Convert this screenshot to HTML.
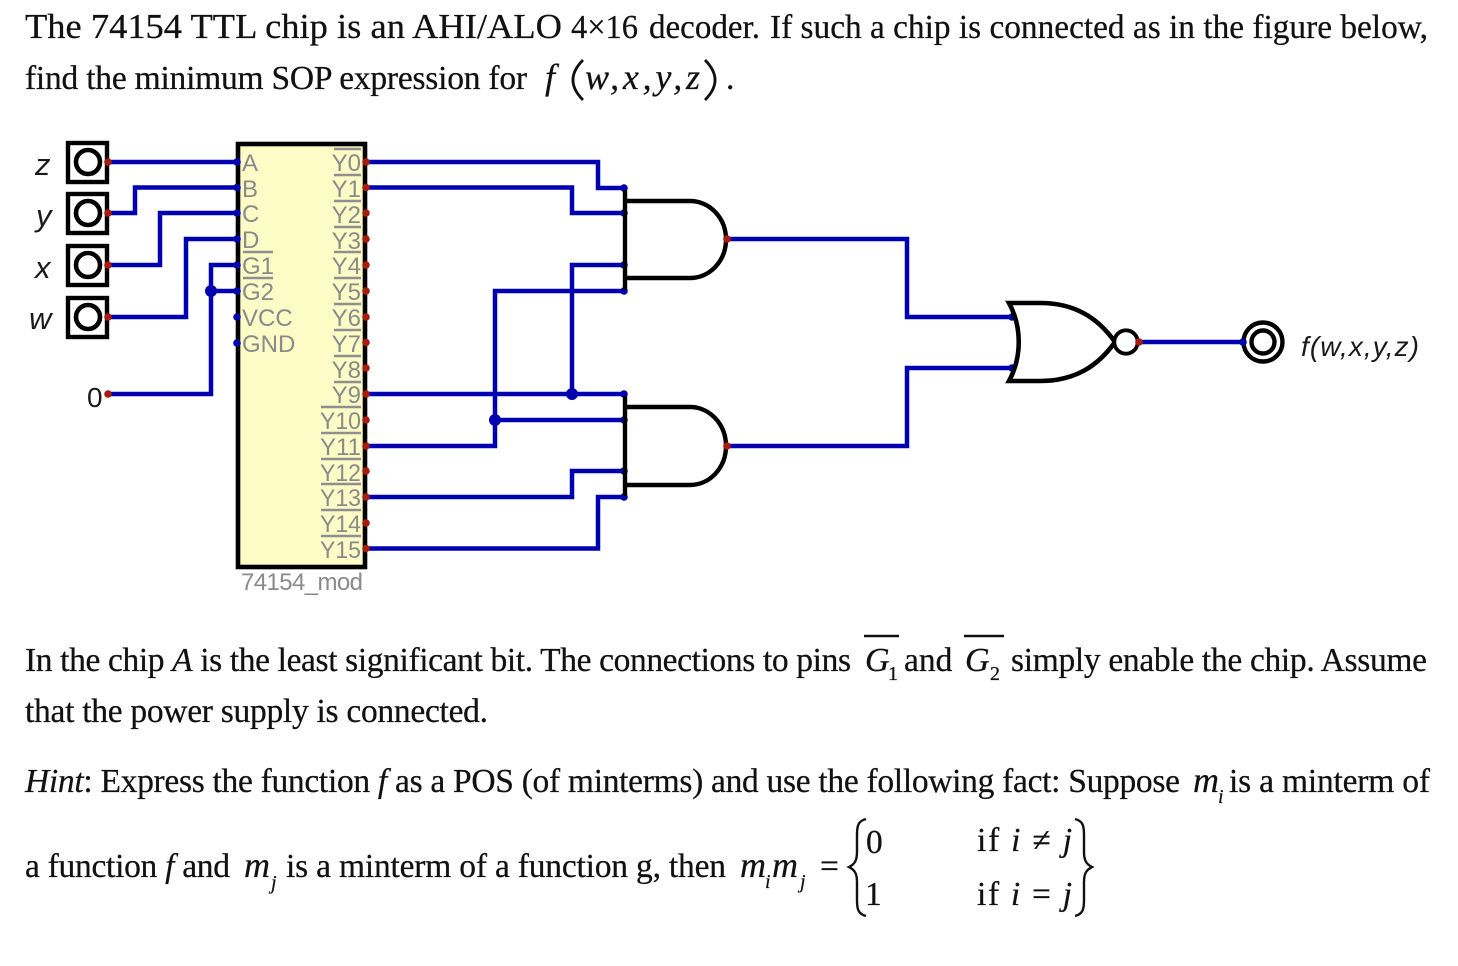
<!DOCTYPE html>
<html lang="en">
<head>
<meta charset="utf-8">
<title>74154 decoder</title>
<style>
html,body{margin:0;padding:0;background:#fff;width:1458px;height:966px;overflow:hidden}
svg{display:block}
.t{font-family:"Liberation Serif",serif;font-size:33.5px;fill:#111;stroke:#111;stroke-width:.25px}
.i{font-style:italic}
.mi{font-size:36px}
.s{font-family:"Liberation Sans",sans-serif;font-style:italic;fill:#1a1a1a}
.g{font-family:"Liberation Sans",sans-serif;font-size:24px;fill:#8a8a8a}
.w{fill:none;stroke:#0000b0;stroke-width:4.5;stroke-linejoin:miter}
.b{fill:none;stroke:#000;stroke-linecap:butt}
.o{stroke:#8f8f8f;stroke-width:2.6;fill:none}
.m{fill:none;stroke:#111}
</style>
</head>
<body>
<svg width="1458" height="966" viewBox="0 0 1458 966" xmlns="http://www.w3.org/2000/svg">
<rect width="1458" height="966" fill="#fff"/>

<!-- top text -->
<text class="t" x="25" y="38" style="font-size:35px" textLength="537" lengthAdjust="spacingAndGlyphs">The 74154 TTL chip is an AHI/ALO</text>
<text class="t" x="571" y="38" textLength="67" lengthAdjust="spacingAndGlyphs">4×16</text>
<text class="t" x="649" y="38" textLength="111" lengthAdjust="spacingAndGlyphs">decoder.</text>
<text class="t" x="770" y="38" textLength="658" lengthAdjust="spacingAndGlyphs">If such a chip is connected as in the figure below,</text>
<text class="t" x="25" y="89" textLength="502" lengthAdjust="spacing">find the minimum SOP expression for</text>
<text class="t i mi" x="545" y="89">f</text>
<path class="m" style="stroke-width:2.8" d="M583 60 Q563 80 583 100"/>
<text class="t i mi" x="585" y="89" textLength="115" lengthAdjust="spacing">w,x,y,z</text>
<path class="m" style="stroke-width:2.8" d="M705 60 Q725 80 705 100"/>
<text class="t" x="726" y="89">.</text>

<!-- chip -->
<rect x="238" y="144" width="127" height="423" fill="#fdfcc6" stroke="#000" stroke-width="4.6"/>

<!-- wires -->
<path class="w" d="M108 162H237"/>
<path class="w" d="M108 213H135V187.500H237"/>
<path class="w" d="M108 265H160V213H237"/>
<path class="w" d="M108 317H186V239H237"/>
<path class="w" d="M237 265H211V394H108"/>
<path class="w" d="M211 291H237"/>
<path class="w" d="M366 162H598V188H624"/>
<path class="w" d="M366 187.500H572V213H624"/>
<path class="w" d="M366 394H624"/>
<path class="w" d="M572 394V265H624"/>
<path class="w" d="M366 446H495V291H624"/>
<path class="w" d="M495 420H624"/>
<path class="w" d="M366 497H572V471H624"/>
<path class="w" d="M366 548.500H598V497H624"/>
<path class="w" d="M727 239H907V317H1012"/>
<path class="w" d="M727 446H907V368H1012"/>
<path class="w" d="M1139 342H1243"/>

<!-- switches -->
<g fill="none" stroke="#000">
<rect x="68" y="143" width="39" height="39" stroke-width="4.400"/>
<rect x="68" y="194" width="39" height="39" stroke-width="4.400"/>
<rect x="68" y="246" width="39" height="39" stroke-width="4.400"/>
<rect x="68" y="298" width="39" height="39" stroke-width="4.400"/>
<circle cx="88" cy="162" r="12" stroke-width="4.600"/>
<circle cx="88" cy="213" r="12" stroke-width="4.600"/>
<circle cx="88" cy="265" r="12" stroke-width="4.600"/>
<circle cx="88" cy="317" r="12" stroke-width="4.600"/>
</g>
<text class="s" x="35" y="175" font-size="31">z</text>
<text class="s" x="36" y="226" font-size="31">y</text>
<text class="s" x="35" y="278" font-size="31">x</text>
<text class="s" x="29" y="329" font-size="31">w</text>
<text x="87" y="407" font-family="'Liberation Sans',sans-serif" font-size="28" fill="#1a1a1a">0</text>

<!-- chip left labels -->
<g class="g">
<text x="242" y="171">A</text>
<text x="242" y="197">B</text>
<text x="242" y="222">C</text>
<text x="242" y="248">D</text>
<text x="242" y="274">G1</text>
<text x="242" y="300">G2</text>
<text x="242" y="326">VCC</text>
<text x="242" y="352">GND</text>
</g>
<path class="o" d="M243 252H273M243 278H273"/>

<!-- chip right labels -->
<g class="g" text-anchor="end">
<text x="361" y="171">Y0</text>
<text x="361" y="197">Y1</text>
<text x="361" y="223">Y2</text>
<text x="361" y="249">Y3</text>
<text x="361" y="274">Y4</text>
<text x="361" y="300">Y5</text>
<text x="361" y="326">Y6</text>
<text x="361" y="352">Y7</text>
<text x="361" y="378">Y8</text>
<text x="361" y="403">Y9</text>
<text x="361" y="429" textLength="41" lengthAdjust="spacingAndGlyphs">Y10</text>
<text x="361" y="455" textLength="41" lengthAdjust="spacingAndGlyphs">Y11</text>
<text x="361" y="481" textLength="41" lengthAdjust="spacingAndGlyphs">Y12</text>
<text x="361" y="506" textLength="41" lengthAdjust="spacingAndGlyphs">Y13</text>
<text x="361" y="532" textLength="41" lengthAdjust="spacingAndGlyphs">Y14</text>
<text x="361" y="558" textLength="41" lengthAdjust="spacingAndGlyphs">Y15</text>
</g>
<path class="o" d="M334 149H361M334 175H361M334 201H361M334 227H361M334 252H361M334 278H361M334 304H361M334 330H361M334 356H361M334 382H361M321 407H361M321 433H361M321 459H361M321 484H361M321 510H361M321 536H361"/>
<text class="g" x="241" y="590" textLength="122" lengthAdjust="spacing">74154_mod</text>

<!-- pin dots -->
<g fill="#0000b0">
<circle cx="237" cy="162" r="3.800"/><circle cx="237" cy="187.500" r="3.800"/><circle cx="237" cy="213" r="3.800"/><circle cx="237" cy="239" r="3.800"/>
<circle cx="237" cy="265" r="3.800"/><circle cx="237" cy="291" r="3.800"/><circle cx="237" cy="317" r="3.800"/><circle cx="237" cy="343" r="3.800"/>
<circle cx="211" cy="291" r="6"/><circle cx="572" cy="394" r="6"/><circle cx="495" cy="420" r="6"/>
<circle cx="624" cy="188" r="3.800"/><circle cx="624" cy="213" r="3.800"/><circle cx="624" cy="265" r="3.800"/><circle cx="624" cy="291" r="3.800"/>
<circle cx="624" cy="394" r="3.800"/><circle cx="624" cy="420" r="3.800"/><circle cx="624" cy="471" r="3.800"/><circle cx="624" cy="497" r="3.800"/>
<circle cx="1012" cy="317" r="3.800"/><circle cx="1012" cy="368" r="3.800"/><circle cx="1243" cy="342" r="3.800"/>
</g>

<!-- AND gates -->
<path class="b" stroke-width="4.400" d="M625 190V290M625 201H690A36 38.500 0 0 1 690 278H625"/>
<path class="b" stroke-width="4.400" d="M625 396V496M625 407H690A36 39 0 0 1 690 485H625"/>

<!-- NOR gate -->
<path class="b" stroke-width="4.600" d="M1009 303H1040C1075 303 1098 318 1115 342C1098 366 1075 381 1040 381H1009C1022 357 1022 327 1009 303Z"/>
<circle cx="1126" cy="342" r="11.700" fill="#fff" stroke="#000" stroke-width="3.800"/>

<!-- output -->
<circle cx="1263" cy="342" r="19.500" fill="#fff" stroke="#000" stroke-width="4.400"/>
<circle cx="1263" cy="342" r="11.500" fill="#fff" stroke="#000" stroke-width="4.400"/>
<circle cx="1243" cy="342" r="3.800" fill="#0000b0"/>
<text class="s" x="1301" y="356" font-size="28" textLength="118" lengthAdjust="spacing">f(w,x,y,z)</text>

<!-- red dots -->
<g fill="#a81c10">
<circle cx="108" cy="162" r="3.800"/><circle cx="108" cy="213" r="3.800"/><circle cx="108" cy="265" r="3.800"/><circle cx="108" cy="317" r="3.800"/><circle cx="108" cy="394" r="3.800"/>
<circle cx="366" cy="162" r="3.800"/><circle cx="366" cy="187.500" r="3.800"/><circle cx="366" cy="213" r="3.800"/><circle cx="366" cy="239" r="3.800"/>
<circle cx="366" cy="265" r="3.800"/><circle cx="366" cy="291" r="3.800"/><circle cx="366" cy="317" r="3.800"/><circle cx="366" cy="342.500" r="3.800"/>
<circle cx="366" cy="368" r="3.800"/><circle cx="366" cy="394" r="3.800"/><circle cx="366" cy="420" r="3.800"/><circle cx="366" cy="446" r="3.800"/>
<circle cx="366" cy="471" r="3.800"/><circle cx="366" cy="497" r="3.800"/><circle cx="366" cy="523" r="3.800"/><circle cx="366" cy="548.500" r="3.800"/>
<circle cx="727" cy="239" r="3.800"/><circle cx="727" cy="446" r="3.800"/><circle cx="1139" cy="342" r="3.800"/>
</g>

<!-- paragraph -->
<text class="t" x="25" y="671" textLength="826" lengthAdjust="spacing">In the chip <tspan class="i">A</tspan> is the least significant bit. The connections to pins</text>
<path d="M864 636H899M964 636H1004" stroke="#111" stroke-width="2.400"/>
<text class="t i" x="865" y="671" style="font-size:34px">G</text>
<text class="t" x="888" y="680" style="font-size:20px">1</text>
<text class="t" x="904" y="671">and</text>
<text class="t i" x="965" y="671" style="font-size:34px">G</text>
<text class="t" x="990" y="680" style="font-size:20px">2</text>
<text class="t" x="1011" y="671" textLength="416" lengthAdjust="spacing">simply enable the chip. Assume</text>
<text class="t" x="25" y="722" textLength="463" lengthAdjust="spacing">that the power supply is connected.</text>

<text class="t" x="25" y="792" textLength="1155" lengthAdjust="spacing"><tspan class="i">Hint</tspan>: Express the function <tspan class="i">f</tspan> as a POS (of minterms) and use the following fact: Suppose</text>
<text class="t i mi" x="1193" y="792">m</text>
<text class="t i" x="1218" y="803" style="font-size:20px">i</text>
<text class="t" x="1229" y="792" textLength="201" lengthAdjust="spacing">is a minterm of</text>

<text class="t" x="25" y="877" textLength="205" lengthAdjust="spacing">a function <tspan class="i">f</tspan> and</text>
<text class="t i mi" x="244" y="877">m</text>
<text class="t i" x="271" y="889" style="font-size:20px">j</text>
<text class="t" x="286" y="877" textLength="440" lengthAdjust="spacing">is a minterm of a function g, then</text>
<text class="t i mi" x="740" y="877">m</text>
<text class="t i" x="765" y="888" style="font-size:20px">i</text>
<text class="t i mi" x="772" y="877">m</text>
<text class="t i" x="800" y="888" style="font-size:20px">j</text>
<text class="t" x="820" y="877">=</text>
<path class="m" style="stroke-width:2.400" d="M866 819C858 821 857 826 857 835V852C857 860 855 864 849 867C855 870 857 874 857 882V900C857 909 858 914 866 916"/>
<text class="t" x="866" y="853">0</text>
<text class="t" x="865" y="905">1</text>
<text class="t" x="977" y="851" textLength="95" lengthAdjust="spacing">if <tspan class="i">i</tspan> ≠ <tspan class="i">j</tspan></text>
<text class="t" x="977" y="905" textLength="95" lengthAdjust="spacing">if <tspan class="i">i</tspan> = <tspan class="i">j</tspan></text>
<path class="m" style="stroke-width:2.400" d="M1075 819C1083 821 1084 826 1084 835V852C1084 860 1086 864 1092 867C1086 870 1084 874 1084 882V900C1084 909 1083 914 1075 916"/>
</svg>
</body>
</html>
